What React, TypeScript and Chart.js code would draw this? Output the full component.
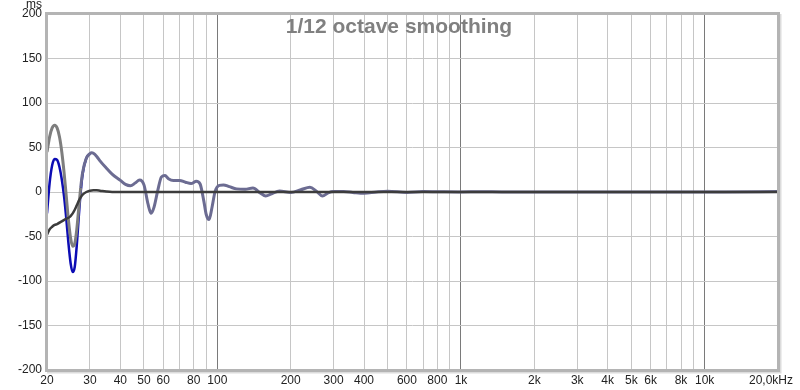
import React, { useEffect, useRef } from "react";
import { Chart, registerables } from "chart.js";

Chart.register(...registerables);

const TITLE = "1/12 octave smoothing";
const Y_UNIT = "ms";

// Frequencies (Hz) shared by the three traces
const FREQS = [
  20, 20.5, 21, 21.5, 22, 22.5, 23, 23.5, 24, 24.5, 25, 25.5, 26, 26.5, 27, 27.5, 28,
  29, 30, 30.5, 31, 32, 33, 35, 37, 40, 42, 44, 46, 48, 50, 52, 53.5, 55, 57, 59, 61,
  63, 66, 70, 74, 78, 82, 85, 88, 90, 92.5, 95, 98, 102, 106, 112, 120, 130, 140, 150,
  158, 167, 180, 200, 220, 240, 255, 270, 285, 300, 330, 360, 400, 450, 500, 600, 700,
  800, 1000, 1200, 1500, 2000, 3000, 5000, 8000, 12000, 20000,
];

// Grey (overall) group delay, ms
const GREY_MS = [
  45, 62, 72, 75, 72, 62, 45, 22, -5, -32, -52, -61, -58, -42, -18, 5, 22,
  38, 43, 44, 43.5, 40, 35, 27, 20, 13, 8.5, 7, 10, 13.5, 8, -14, -24, -17, 2, 17, 18.5,
  15, 13, 13, 11, 9.5, 12, 9, -10, -25, -31, -18, 1, 7.5, 8, 6, 3.5, 3, 4.5, -1,
  -4.5, -2, 1, -0.5, 2.5, 5.3, 1, -4.5, -1, 0.5, 0.5, -0.5, -1.5, 0, 0.8, -0.5, 0.5,
  0.3, 0, 0.3, 0, 0, 0, 0, 0, 0, 0.5,
];

// Blue trace, differs below ~28 Hz (ends where it merges)
const BLUE_FREQS = [20, 20.5, 21, 21.5, 22, 22.5, 23, 23.5, 24, 24.5, 25, 25.5, 26, 26.5, 27, 27.5, 28, 29, 30];
const BLUE_MS = [-24, 10, 30, 37, 36, 28, 14, -5, -30, -58, -80, -90, -84, -60, -28, 0, 20, 38, 43];

// Dark trace
const DARK_FREQS = [20, 20.5, 21, 21.5, 22, 23, 24, 24.5, 25, 25.5, 26, 26.5, 27, 27.5, 28, 29, 30, 31, 32, 33, 35, 37, 40, 60, 100, 1000, 20000];
const DARK_MS = [-48, -42, -39, -37, -36, -33, -30, -29, -27, -24, -20, -15, -10, -6, -3, 0, 1.5, 2, 2, 1.5, 0.5, 0, 0, 0, 0, 0, 0];

const GRID_FREQS = [
  20, 30, 40, 50, 60, 70, 80, 90, 100, 200, 300, 400, 500, 600, 700, 800, 900,
  1000, 2000, 3000, 4000, 5000, 6000, 7000, 8000, 9000, 10000, 20000,
];
const X_LABEL_VALUES = [20, 30, 40, 50, 60, 80, 100, 200, 300, 400, 600, 800, 1000, 2000, 3000, 4000, 5000, 6000, 8000, 10000, 20000];
const X_LABELS = ["20", "30", "40", "50", "60", "80", "100", "200", "300", "400", "600", "800", "1k", "2k", "3k", "4k", "5k", "6k", "8k", "10k", "20,0kHz"];

const FONT = "'Liberation Sans', Arial, sans-serif";

export default function App() {
  const ref = useRef<HTMLCanvasElement | null>(null);

  useEffect(() => {
    document.body.style.margin = "0";
    const canvas = ref.current;
    if (!canvas) return;

    const decorations = {
      id: "decorations",
      afterDraw(chart: any) {
        const { ctx, chartArea } = chart;
        const xs = chart.scales.x;
        const { left, top, right, bottom } = chartArea;
        ctx.save();
        // frame
        ctx.strokeStyle = "#dcdcdc";
        ctx.lineWidth = 2;
        ctx.beginPath();
        ctx.moveTo(right + 2.5, top);
        ctx.lineTo(right + 2.5, bottom + 2.5);
        ctx.lineTo(left, bottom + 2.5);
        ctx.stroke();
        ctx.strokeStyle = "#b4b4b4";
        ctx.lineWidth = 3;
        ctx.strokeRect(left - 0.5, top - 0.5, right - left + 1, bottom - top + 1);
        // title
        ctx.fillStyle = "#808080";
        ctx.font = `bold 21px ${FONT}`;
        ctx.textAlign = "center";
        ctx.textBaseline = "alphabetic";
        ctx.fillText(TITLE, 399, 33);
        // unit
        ctx.fillStyle = "#222";
        ctx.font = `12px ${FONT}`;
        ctx.textAlign = "right";
        ctx.textBaseline = "middle";
        ctx.fillText(Y_UNIT, 42, 5);
        // x labels
        X_LABEL_VALUES.forEach((v, i) => {
          const px = xs.getPixelForValue(v);
          const last = i === X_LABEL_VALUES.length - 1;
          ctx.textAlign = last ? "right" : "center";
          ctx.fillText(X_LABELS[i], last ? px + 15 : px, 381);
        });
        ctx.restore();
      },
    };

    const chart = new Chart(canvas, {
      type: "line",
      data: {
        datasets: [
          {
            label: "dark",
            data: DARK_FREQS.map((f, i) => ({ x: f, y: DARK_MS[i] })),
            borderColor: "#3c3c3c",
            borderWidth: 2.5,
            pointRadius: 0,
            cubicInterpolationMode: "monotone",
          },
          {
            label: "grey",
            data: FREQS.map((f, i) => ({ x: f, y: GREY_MS[i] })),
            borderColor: "#6c6c92",
            borderWidth: 3,
            pointRadius: 0,
            cubicInterpolationMode: "monotone",
            segment: {
              borderColor: (c: any) => (c.p0.parsed.x < 27.5 ? "#7e7e7e" : "#6c6c92"),
            },
          },
          {
            label: "blue",
            data: BLUE_FREQS.map((f, i) => ({ x: f, y: BLUE_MS[i] })),
            borderColor: "#0c0cb4",
            borderWidth: 2.5,
            pointRadius: 0,
            cubicInterpolationMode: "monotone",
          },
        ] as any,
      },
      options: {
        responsive: false,
        animation: false,
        events: [],
        layout: { padding: { left: 0, top: 14, right: 22, bottom: 0 } },
        plugins: { legend: { display: false }, tooltip: { enabled: false }, title: { display: false } },
        scales: {
          x: {
            type: "logarithmic",
            min: 20,
            max: 20000,
            afterBuildTicks: (s: any) => {
              s.ticks = GRID_FREQS.map((v) => ({ value: v }));
            },
            afterFit: (s: any) => {
              s.height = 20;
            },
            ticks: { display: false },
            border: { display: false },
            grid: {
              drawTicks: false,
              lineWidth: 1,
              color: (c: any) => {
                const v = c.tick ? c.tick.value : 0;
                if (v === 20 || v === 20000) return "rgba(0,0,0,0)";
                if (v === 100 || v === 1000 || v === 10000) return "#7a7a7a";
                return "#c6c6c6";
              },
            },
          },
          y: {
            min: -200,
            max: 200,
            afterFit: (s: any) => {
              s.width = 47;
            },
            ticks: {
              stepSize: 50,
              padding: 5,
              color: "#222",
              font: { family: FONT, size: 12 },
            },
            border: { display: false },
            grid: {
              drawTicks: false,
              color: (c: any) => {
                const v = c.tick ? c.tick.value : 0;
                if (v === 200 || v === -200) return "rgba(0,0,0,0)";
                return "#c6c6c6";
              },
            },
          },
        },
      } as any,
      plugins: [decorations],
    });

    return () => chart.destroy();
  }, []);

  return (
    <div style={{ width: 800, height: 390, background: "#fff" }}>
      <canvas ref={ref} width={800} height={390} style={{ display: "block" }} />
    </div>
  );
}
